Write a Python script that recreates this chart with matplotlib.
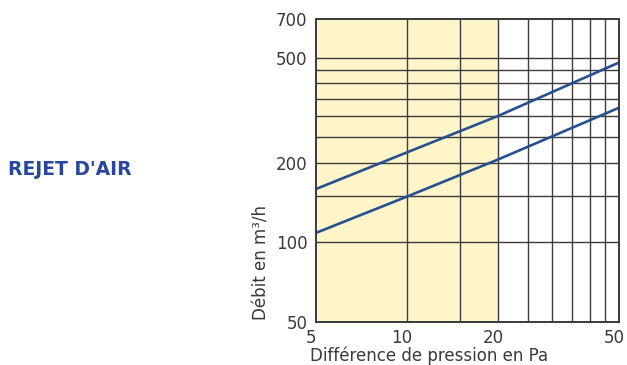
import numpy as np
import matplotlib.pyplot as plt
import matplotlib.transforms as mtransforms
from matplotlib.ticker import FixedLocator, NullLocator, NullFormatter

# pression (Pa) et débits (m3/h) pour les deux courbes
pression = [5, 10, 20, 50]
debit_haut = [159, 219, 301, 479]
debit_bas = [108.5, 149, 206, 323]

xticks = [5, 10, 20, 50]
yticks = [50, 100, 200, 500, 700]
xgrid = [10, 15, 20, 25, 30, 35, 40, 45]
ygrid = [100, 150, 200, 250, 300, 350, 400, 450, 500]

texte = "#3a3a3a"
bleu = "#26508f"

fig = plt.figure(figsize=(6.27, 3.65), dpi=100)
ax = fig.add_axes([0.5035, 0.118, 0.4837, 0.830])
ax.set_xscale("log")
ax.set_yscale("log")
ax.set_xlim(5, 50)
ax.set_ylim(50, 700)

# zone jaune jusqu'à 20 Pa
ax.axvspan(5, 20, color="#fff5c8", zorder=0)

for x in xgrid:
    ax.axvline(x, color="#3c3c3c", lw=1.0, zorder=1)
for y in ygrid:
    ax.axhline(y, color="#3c3c3c", lw=1.0, zorder=1)

ax.plot(pression, debit_haut, color=bleu, lw=1.9, zorder=3)
ax.plot(pression, debit_bas, color=bleu, lw=1.9, zorder=3)

ax.xaxis.set_major_locator(FixedLocator(xticks))
ax.yaxis.set_major_locator(FixedLocator(yticks))
ax.xaxis.set_minor_locator(NullLocator())
ax.yaxis.set_minor_locator(NullLocator())
ax.xaxis.set_minor_formatter(NullFormatter())
ax.yaxis.set_minor_formatter(NullFormatter())
ax.set_xticklabels([str(v) for v in xticks])
ax.set_yticklabels([str(v) for v in yticks])
ax.tick_params(length=0, labelsize=12, colors=texte)
ax.tick_params(axis="y", pad=6)
ax.tick_params(axis="x", pad=5)

# étiquettes de l'axe x légèrement décalées vers la gauche
decal = mtransforms.ScaledTranslation(-5 / 100, 0, fig.dpi_scale_trans)
for lab in ax.get_xticklabels():
    lab.set_transform(lab.get_transform() + decal)

for s in ax.spines.values():
    s.set_color("#3a3a3a")
    s.set_linewidth(1.4)
    s.set_zorder(4)

ax.set_xlabel("Différence de pression en Pa", fontsize=12, color=texte)
ax.xaxis.set_label_coords(0.374, -0.080)
ax.set_ylabel("Débit en m³/h", fontsize=12, color=texte)
ax.yaxis.set_label_coords(-0.148, 0.195)

fig.text(0.013, 0.535, "REJET D'AIR", fontsize=13.5, fontweight="bold",
         family="DejaVu Sans", color="#2846a0", va="center", ha="left")

fig.savefig("out.png", dpi=100)
